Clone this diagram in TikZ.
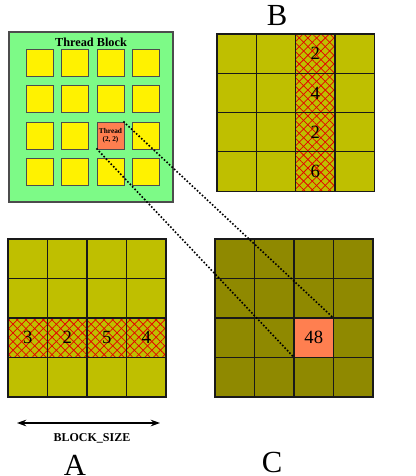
\documentclass[tikz,border=0pt]{standalone}
\usepackage{fontspec}
\setmainfont{Liberation Serif}
\usetikzlibrary{arrows.meta,patterns.meta}

\definecolor{blockgreen}{RGB}{125,250,135}
\definecolor{olivea}{RGB}{191,191,0}
\definecolor{olivec}{RGB}{143,137,0}
\definecolor{hot}{RGB}{255,127,80}

\tikzset{
  cell/.style={draw=black!90, line width=0.9pt, minimum size=29.6pt,
    inner sep=0pt, outer sep=0pt, font=\fontsize{14}{16}\selectfont},
  tcell/.style={draw=black!70, line width=0.6pt, fill=yellow, minimum size=20.25pt,
    inner sep=0pt, outer sep=0pt},
  hatched/.style={
    postaction={pattern={Lines[angle=45,distance=4.6pt,line width=0.55pt]}, pattern color=red!90!black},
    postaction={pattern={Lines[angle=-45,distance=4.6pt,line width=0.55pt]}, pattern color=red!90!black},
    postaction={draw=black!90, line width=0.9pt}},
  big/.style={font=\fontsize{23}{25}\selectfont},
  link/.style={line width=1.7pt, line cap=round, dash pattern=on 0pt off 2.6pt}
}

\begin{document}
\begin{tikzpicture}[x=0.75pt, y=-0.75pt]
\useasboundingbox (0,0) rectangle (416,476);

% thread block
\node[draw=black!70, line width=0.8pt, fill=blockgreen, minimum width=123pt, minimum height=127.5pt,
  inner sep=0pt] (block) at (91,117) {};
\node[font=\bfseries\fontsize{9.2}{10}\selectfont] (title) at (91,42) {Thread Block};
\foreach \r in {0,...,3}
  \foreach \c in {0,...,3}
    \node[tcell] (t-\r-\c) at ({39.5+35.5*\c},{63+36.3*\r}) {};
\node[tcell, fill=hot, align=center, font=\bfseries\fontsize{5.5}{6.5}\selectfont] (thread) at (t-2-2) {Thread\\(2, 2)};

% matrix B
\foreach \r in {0,...,3}
  \foreach \c in {0,...,3}
    \node[cell, fill=olivea] (b-\r-\c) at ({217+39.3*(\c+0.5)},{34+39.3*(\r+0.5)}) {};
\foreach \r/\v in {0/2,1/4,2/2,3/6}
  \node[cell, fill=olivea, hatched] (b-\r-2) at ({217+39.3*2.5},{34+39.3*(\r+0.5)}) {\v};
\node[big] (labelb) at (277,15) {B};

% matrix A
\foreach \r in {0,...,3}
  \foreach \c in {0,...,3}
    \node[cell, fill=olivea] (a-\r-\c) at ({8+39.5*(\c+0.5)},{239+39.5*(\r+0.5)}) {};
\foreach \c/\v in {0/3,1/2,2/5,3/4}
  \node[cell, fill=olivea, hatched] (a-2-\c) at ({8+39.5*(\c+0.5)},{239+39.5*2.5}) {\v};
\coordinate (left) at (17,423);
\coordinate (right) at (160,423);
\draw[{Stealth[length=7pt,width=5pt]}-{Stealth[length=7pt,width=5pt]}, line width=0.9pt] (left) -- (right);
\node[font=\bfseries\fontsize{9}{10}\selectfont] (size) at (92,438) {BLOCK\_SIZE};
\node[big] (labela) at (75,465) {A};

% matrix C
\foreach \r in {0,...,3}
  \foreach \c in {0,...,3}
    \node[cell, fill=olivec] (c-\r-\c) at ({215+39.5*(\c+0.5)},{239+39.5*(\r+0.5)}) {};
\node[cell, fill=hot] (c-2-2) at ({215+39.5*2.5},{239+39.5*2.5}) {48};
\node[big] (labelc) at (272,462) {C};

% links
\draw[link] (thread.north east) -- (c-2-2.north east);
\draw[link] (thread.south west) -- (c-2-2.south west);

\end{tikzpicture}
\end{document}
